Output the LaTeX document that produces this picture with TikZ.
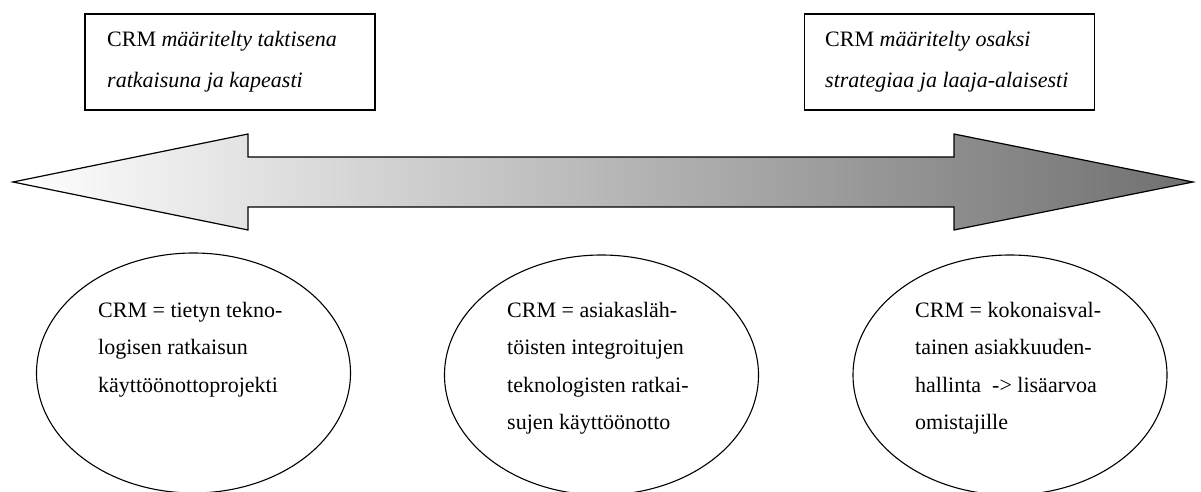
\documentclass[tikz,border=0pt]{standalone}
\usepackage{fontspec}
\setmainfont{Liberation Serif}
\usetikzlibrary{shapes.geometric}
\begin{document}
\begin{tikzpicture}[x=1pt,y=-1pt,
  outline/.style={draw=black, line width=1.2pt},
  labelbox/.style={outline, rectangle, minimum width=290pt, minimum height=96pt, inner sep=0pt},
  oval/.style={draw=black, line width=1.1pt, ellipse, minimum width=314pt, minimum height=240pt, inner sep=0pt},
  txt/.style={anchor=base west, inner sep=0pt, font=\fontsize{22}{37.5}\selectfont}
]
\useasboundingbox (0,0) rectangle (1201,492);
% double arrow
\path[outline, left color=white, right color=black!56]
  (13,182) -- (248,134) -- (248,157) -- (954,157) -- (954,134) -- (1193,182)
  -- (954,230) -- (954,207) -- (248,207) -- (248,230) -- cycle;
% boxes
\node[labelbox] (b1) at (230,62) {};
\node[labelbox] (b2) at (949.5,62) {};
\node[txt] (t1) at (107,47) {\parbox[t]{260pt}{\fontsize{22}{40.5}\selectfont\raggedright {\upshape CRM} \itshape määritelty taktisena\\ratkaisuna ja kapeasti}};
\node[txt] (t2) at (825,47) {\parbox[t]{260pt}{\fontsize{22}{40.5}\selectfont\raggedright {\upshape CRM} \itshape määritelty osaksi\\strategiaa ja laaja-alaisesti}};
% ellipses
\node[oval] (e1) at (193.5,373) {};
\node[oval] (e2) at (601.5,375) {};
\node[oval] (e3) at (1010,375) {};
\node[txt] (c1) at (98,317) {\parbox[t]{240pt}{\fontsize{22}{37.5}\selectfont\raggedright CRM = tietyn tekno-\\logisen ratkaisun\\käyttöönottoprojekti}};
\node[txt] (c2) at (507,317) {\parbox[t]{240pt}{\fontsize{22}{37.5}\selectfont\raggedright CRM = asiakasläh-\\töisten integroitujen\\teknologisten ratkai-\\sujen käyttöönotto}};
\node[txt] (c3) at (915,317) {\parbox[t]{240pt}{\fontsize{22}{37.5}\selectfont\raggedright CRM = kokonaisval-\\tainen asiakkuuden-\\hallinta \ -> lisäarvoa\\omistajille}};
\end{tikzpicture}
\end{document}
